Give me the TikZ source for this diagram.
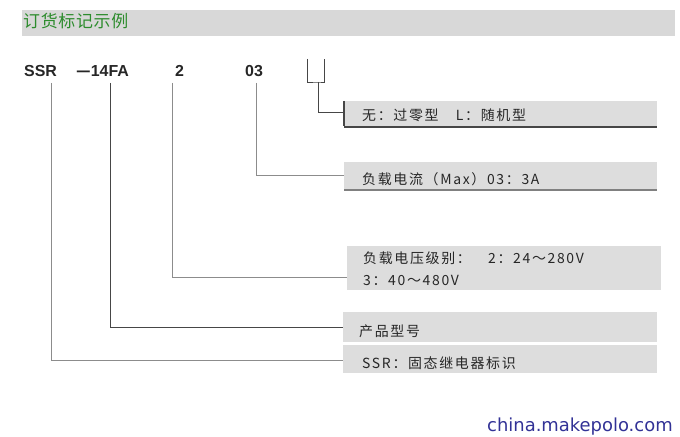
\documentclass[tikz,border=0pt]{standalone}
\usepackage{fontspec}
\setmainfont{Liberation Sans}
\newfontfamily\cjk[LetterSpace=12]{Noto Sans CJK SC}
\newfontfamily\cjktitle[LetterSpace=4]{Noto Sans CJK SC}
\newfontfamily\wm{DejaVu Sans}
\definecolor{boxgray}{RGB}{221,221,221}
\definecolor{bargray}{RGB}{216,216,216}
\definecolor{titlegreen}{RGB}{45,140,45}
\definecolor{linegray}{RGB}{140,140,140}
\definecolor{darkline}{RGB}{70,70,70}
\definecolor{wmblue}{RGB}{50,50,150}
\tikzset{
  infobox/.style={fill=boxgray, draw=none, rectangle, inner sep=0pt, anchor=north west},
  boxtext/.style={anchor=base west, inner sep=0pt, font=\cjk\fontsize{14}{16}\selectfont, text=black!85},
  codetext/.style={anchor=base west, inner sep=0pt, font=\bfseries\fontsize{16}{18}\selectfont, text=black!85},
  conn/.style={draw=linegray, line width=0.8bp},
  darkconn/.style={draw=darkline, line width=0.8bp},
}
\begin{document}
\begin{tikzpicture}[x=1bp,y=-1bp]
\useasboundingbox (0,0) rectangle (680,437);
% title bar
\node[infobox, fill=bargray, minimum width=653bp, minimum height=26bp] (bar) at (22,10) {};
\node[anchor=base west, inner sep=0pt, font=\cjktitle\fontsize{17}{19}\selectfont, text=titlegreen] (title) at (23,28) {订货标记示例};
% code line
\node[codetext] (ssr) at (24,77) {SSR};
\node[codetext] (fa) at (76,77) {\cjk —\rmfamily\bfseries 14FA};
\node[codetext] (two) at (175,77) {2};
\node[codetext] (three) at (245,77) {03};
% boxes
\node[infobox, minimum width=313bp, minimum height=25bp] (b1) at (344,101) {};
\node[infobox, minimum width=313bp, minimum height=27bp] (b2) at (344,162) {};
\node[infobox, minimum width=314bp, minimum height=44bp] (b3) at (347,246) {};
\node[infobox, minimum width=314bp, minimum height=30bp] (b4) at (343,312) {};
\node[infobox, minimum width=314bp, minimum height=28bp] (b5) at (343,345) {};
\draw[draw=darkline, line width=1.2bp] (b1.north west) -- (b1.south west);
\draw[draw=darkline, line width=2bp] ([yshift=-1bp]b1.south west) -- ([yshift=-1bp]b1.south east);
\draw[draw=gray, line width=2bp] ([yshift=-1bp]b2.south west) -- ([yshift=-1bp]b2.south east);
% box texts
\node[boxtext] (t1) at (362,121) {无：过零型　L：随机型};
\node[boxtext] (t2) at (362,185) {负载电流（Max）03：3A};
\node[boxtext] (t3a) at (363,264) {负载电压级别：　2：24～280V};
\node[boxtext] (t3b) at (363,286) {3：40～480V};
\node[boxtext] (t4) at (359,337) {产品型号};
\node[boxtext] (t5) at (362,368) {SSR：固态继电器标识};
% connector anchors
\coordinate (s1) at (51,83);
\coordinate (s2) at (110,83);
\coordinate (s3) at (172,83);
\coordinate (s4) at (256,83);
\coordinate (k1) at (307,59);
\coordinate (k2) at (324,59);
\coordinate (k3) at (318,82);
\coordinate (e1) at (344,112);
\coordinate (e2) at (344,175);
\coordinate (e3) at (347,277);
\coordinate (e4) at (343,327);
\coordinate (e5) at (343,360);
% connectors
\draw[darkconn] (k1) |- (k3) -| (k2);
\draw[darkconn] (k3) |- (e1);
\draw[conn] (s4) |- (e2);
\draw[conn] (s3) |- (e3);
\draw[darkconn] (s2) |- (e4);
\draw[conn] (s1) |- (e5);
% watermark
\node[anchor=base west, inner sep=0pt, font=\wm\fontsize{18}{20}\selectfont, text=wmblue] (wm) at (487,431) {china.makepolo.com};
\end{tikzpicture}
\end{document}
